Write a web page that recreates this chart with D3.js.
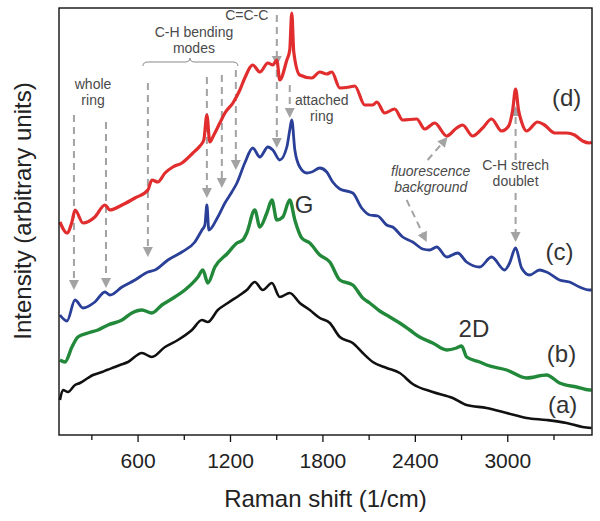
<!DOCTYPE html>
<html>
<head>
<meta charset="utf-8">
<script src="https://cdn.jsdelivr.net/npm/d3@7"></script>
<style>
  body { margin: 0; background: #fff; }
  svg { display: block; font-family: "Liberation Sans", Arial, Helvetica, sans-serif; }
</style>
</head>
<body>
<div id="chart"></div>
<script>
// spectra (Raman shift in 1/cm, intensity in arbitrary units)
const shiftD = [96,142,174,194,246,323,388,421,499,583,667,693,732,778,829,888,959,1005,1030,1050,1069,1095,1134,1167,1219,1264,1296,1348,1394,1446,1478,1504,1523,1569,1588,1601,1614,1653,1731,1783,1828,1861,1913,1977,2010,2075,2127,2153,2204,2269,2321,2412,2464,2529,2607,2671,2710,2775,2840,2898,2963,3009,3035,3054,3073,3093,3125,3197,3242,3307,3385,3437,3489,3534,3547];
const intensityD = [213,202,213,225,212,218,230,225,230,237,245,255,253,262,268,272,282,289,295,320,293,300,312,322,332,345,357,370,363,372,370,375,355,375,385,422,383,360,357,363,361,363,347,348,349,330,330,333,322,326,315,316,306,312,299,307,310,299,307,316,304,309,325,346,325,313,304,313,310,302,302,300,294,292,293];

const shiftC = [96,142,194,246,323,388,421,499,583,667,713,797,888,972,1018,1037,1050,1063,1121,1167,1212,1245,1296,1348,1394,1446,1478,1523,1569,1588,1601,1621,1653,1699,1731,1783,1828,1867,1913,1997,2055,2107,2159,2217,2256,2321,2386,2451,2496,2542,2607,2678,2736,2821,2898,2983,3015,3054,3093,3145,3210,3255,3339,3404,3469,3534,3547];
const intensityC = [120,114,135,127,133,143,140,148,155,163,165,175,183,193,205,210,230,205,218,232,243,252,272,287,278,288,285,275,288,305,315,285,268,262,263,267,263,253,246,242,227,220,219,210,208,198,193,186,185,188,178,182,173,168,178,165,172,187,167,160,165,163,155,153,148,145,145];

const shiftB = [96,129,174,213,278,343,408,499,563,628,693,758,842,907,992,1024,1056,1102,1186,1245,1283,1309,1361,1394,1439,1472,1504,1543,1588,1621,1666,1718,1783,1848,1913,1997,2062,2107,2172,2237,2302,2367,2431,2516,2607,2671,2704,2736,2821,2866,2996,3125,3255,3339,3450,3534,3547];
const intensityB = [75,73,88,98,102,105,110,115,122,125,122,130,138,145,158,165,152,168,182,192,195,202,225,208,222,235,215,218,235,215,197,192,180,173,155,150,137,132,124,118,112,105,98,92,85,87,89,78,73,70,65,57,60,52,48,45,45];

const shiftA = [96,116,148,194,226,278,311,369,401,453,486,538,628,693,778,862,953,1018,1056,1121,1186,1264,1309,1361,1413,1472,1523,1588,1653,1718,1783,1848,1913,1997,2062,2127,2217,2302,2386,2516,2646,2736,2866,2996,3125,3255,3385,3489,3547];
const intensityA = [35,45,43,50,52,57,60,63,65,68,70,73,82,78,88,95,105,115,113,125,132,140,145,153,145,152,138,142,132,125,117,112,98,92,82,73,67,62,51,43,37,30,27,22,17,15,12,8,7];

const shiftTicks = [600, 1200, 1800, 2400, 3000];
const shiftMinorTicks = [300, 900, 1500, 2100, 2700, 3300];

const series = [
  {name: "(a)", shift: shiftA, intensity: intensityA, color: "#111111", width: 2.6, label: [3359, 22]},
  {name: "(b)", shift: shiftB, intensity: intensityB, color: "#23893a", width: 3.4, label: [3352, 73]},
  {name: "(c)", shift: shiftC, intensity: intensityC, color: "#2a3f98", width: 2.8, label: [3339, 175]},
  {name: "(d)", shift: shiftD, intensity: intensityD, color: "#e12d2d", width: 3.2, label: [3385, 329]}
];

// dashed assignment arrows: [shift, intensity] start -> tip
const arrows = [
  [[187, 320], [187, 145]],
  [[395, 313], [395, 147]],
  [[667, 352], [667, 178]],
  [[1050, 358], [1050, 237]],
  [[1147, 360], [1147, 247]],
  [[1238, 365], [1238, 265]],
  [[1504, 420], [1504, 369]],
  [[1504, 365], [1504, 287]],
  [[1588, 350], [1588, 317]],
  [[3054, 275], [3054, 329]],
  [[3054, 242], [3054, 193]],
  [[2483, 275], [2613, 298]],
  [[2347, 235], [2477, 193]]
];

// annotation text: lines, anchor shift, first baseline intensity
const notes = [
  {lines: ["whole", "ring"], at: [311, 346]},
  {lines: ["C-H bending", "modes"], at: [966, 398]},
  {lines: ["C=C-C"], at: [1309, 415]},
  {lines: ["attached", "ring"], at: [1796, 330]},
  {lines: ["fluorescence", "background"], at: [2503, 259], italic: true},
  {lines: ["C-H strech", "doublet"], at: [3054, 265]}
];
const bandLabels = [
  {text: "G", at: [1621, 222]},
  {text: "2D", at: [2684, 98]}
];

const width = 600, height = 521;
const margin = {top: 8, right: 8, bottom: 86, left: 59};

const svg = d3.select("#chart").append("svg")
  .attr("width", width)
  .attr("height", height);

const x = d3.scaleLinear()
  .domain([90, 3550])
  .range([margin.left, width - margin.right]);
const y = d3.scaleLinear()
  .domain([0, 427])
  .range([height - margin.bottom, margin.top]);

const plotBottom = height - margin.bottom;

// axes
svg.append("g")
  .attr("transform", `translate(0,${plotBottom})`)
  .call(d3.axisBottom(x).tickValues(shiftMinorTicks).tickSize(5).tickFormat(""))
  .call(g => g.select(".domain").remove())
  .call(g => g.selectAll("line").attr("stroke", "#111").attr("stroke-width", 1.3));

svg.append("g")
  .attr("transform", `translate(0,${plotBottom})`)
  .call(d3.axisBottom(x).tickValues(shiftTicks).tickSize(7).tickPadding(11).tickFormat(d3.format("d")))
  .call(g => g.select(".domain").remove())
  .call(g => g.selectAll("line").attr("stroke", "#111").attr("stroke-width", 1.3))
  .call(g => g.selectAll("text")
    .attr("fill", "#222")
    .style("font-size", "21px")
    .style("font-family", "'Liberation Sans', Arial, sans-serif"));

// arrows and annotations, behind the spectra
const gray = "#a3a3a3";
const annot = svg.append("g");

arrows.forEach(([from, to]) => {
  const x1 = x(from[0]), y1 = y(from[1]);
  const x2 = x(to[0]), y2 = y(to[1]);
  const len = Math.hypot(x2 - x1, y2 - y1);
  const ux = (x2 - x1) / len, uy = (y2 - y1) / len;
  const head = 10, half = 5;
  const bx = x2 - ux * head, by = y2 - uy * head;
  annot.append("line")
    .attr("x1", x1).attr("y1", y1)
    .attr("x2", bx).attr("y2", by)
    .attr("stroke", gray)
    .attr("stroke-width", 2)
    .attr("stroke-dasharray", "7,5");
  annot.append("path")
    .attr("d", `M${x2},${y2}L${bx - uy * half},${by + ux * half}L${bx + uy * half},${by - ux * half}Z`)
    .attr("fill", gray);
});

// brace over the C-H bending group
const braceY = y(373);
const bx0 = x(635), bx1 = x(1251), bxm = x(940);
annot.append("path")
  .attr("d", `M${bx0},${braceY + 4} Q${bx0},${braceY} ${bx0 + 5},${braceY}` +
    ` L${bxm - 5},${braceY} Q${bxm},${braceY} ${bxm},${braceY - 4}` +
    ` Q${bxm},${braceY} ${bxm + 5},${braceY} L${bx1 - 5},${braceY}` +
    ` Q${bx1},${braceY} ${bx1},${braceY + 4}`)
  .attr("fill", "none")
  .attr("stroke", "#888")
  .attr("stroke-width", 1);

notes.forEach(n => {
  const t = annot.append("text")
    .attr("x", x(n.at[0]))
    .attr("y", y(n.at[1]))
    .attr("text-anchor", "middle")
    .attr("fill", "#4a4a4a")
    .style("font-size", "14px")
    .style("font-style", n.italic ? "italic" : "normal");
  n.lines.forEach((line, i) => {
    t.append("tspan")
      .attr("x", x(n.at[0]))
      .attr("dy", i === 0 ? 0 : 16)
      .text(line);
  });
});

// spectra
const line = d3.line()
  .x(d => x(d[0]))
  .y(d => y(d[1]))
  .curve(d3.curveMonotoneX);

series.forEach(s => {
  const pts = s.shift.map((v, i) => [v, s.intensity[i]]);
  svg.append("path")
    .datum(pts)
    .attr("fill", "none")
    .attr("stroke", s.color)
    .attr("stroke-width", s.width)
    .attr("stroke-linejoin", "round")
    .attr("d", line);
  svg.append("text")
    .attr("x", x(s.label[0]))
    .attr("y", y(s.label[1]))
    .attr("text-anchor", "middle")
    .attr("fill", "#333")
    .style("font-size", "24px")
    .text(s.name);
});

bandLabels.forEach(b => {
  svg.append("text")
    .attr("x", x(b.at[0]))
    .attr("y", y(b.at[1]))
    .attr("fill", "#333")
    .style("font-size", "24px")
    .text(b.text);
});

// frame
svg.append("rect")
  .attr("x", margin.left)
  .attr("y", margin.top)
  .attr("width", width - margin.left - margin.right)
  .attr("height", plotBottom - margin.top)
  .attr("fill", "none")
  .attr("stroke", "#111")
  .attr("stroke-width", 1.4);

// axis titles
svg.append("text")
  .attr("x", (margin.left + width - margin.right) / 2)
  .attr("y", 507)
  .attr("text-anchor", "middle")
  .attr("fill", "#222")
  .style("font-size", "24px")
  .text("Raman shift (1/cm)");

svg.append("text")
  .attr("transform", "translate(31,211) rotate(-90)")
  .attr("text-anchor", "middle")
  .attr("fill", "#222")
  .style("font-size", "24px")
  .text("Intensity (arbitrary units)");
</script>
</body>
</html>
